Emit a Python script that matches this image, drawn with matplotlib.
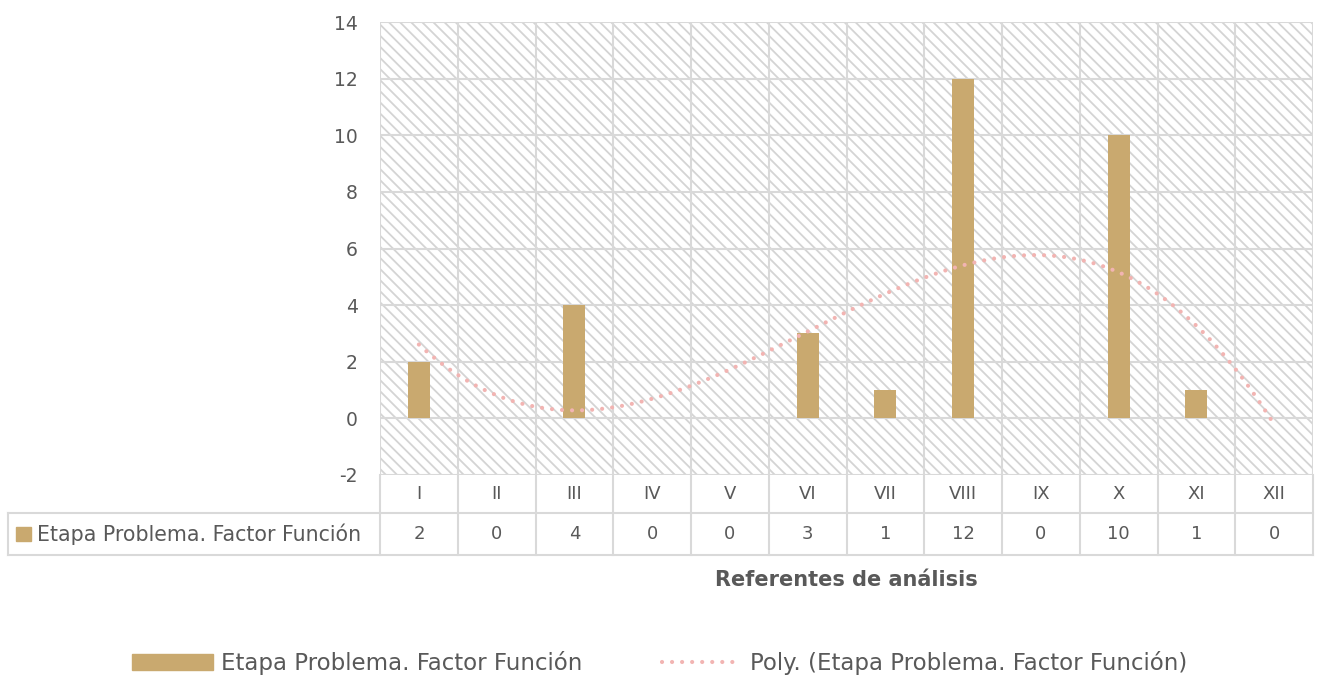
import numpy as np
import matplotlib.pyplot as plt
from matplotlib.patches import Rectangle
from matplotlib.lines import Line2D

# datos
referentes = ['I', 'II', 'III', 'IV', 'V', 'VI', 'VII', 'VIII', 'IX', 'X', 'XI', 'XII']
valores = [2, 0, 4, 0, 0, 3, 1, 12, 0, 10, 1, 0]
serie = 'Etapa Problema. Factor Función'

color_barra = '#C9A96F'
color_tend = '#F2B4B2'
gris = '#D9D9D9'
texto = '#595959'

plt.rcParams['font.family'] = ['DejaVu Sans']
plt.rcParams['hatch.linewidth'] = 1.3
plt.rcParams['axes.unicode_minus'] = False

W, H = 1320, 680
fig = plt.figure(figsize=(W / 100, H / 100), dpi=100)
ax = fig.add_axes([380 / W, 1 - 475 / H, 933 / W, 453 / H])

x = np.arange(1, len(valores) + 1)
ax.set_xlim(0.5, len(valores) + 0.5)
ax.set_ylim(-2, 14)

# fondo rayado
ax.add_patch(Rectangle((0, 0), 1, 1, transform=ax.transAxes, facecolor='white',
                       edgecolor='#D4D4D4', hatch='\\\\\\', linewidth=0, zorder=0))

# rejilla
for yv in range(-2, 15, 2):
    ax.axhline(yv, color=gris, lw=1.5, zorder=1)
for b in np.arange(0.5, len(valores) + 1, 1):
    ax.axvline(b, color=gris, lw=1.5, zorder=1)

ax.bar(x, valores, width=0.28, color=color_barra, zorder=2)

# línea de tendencia polinómica
coef = np.polyfit(x, valores, 3)
xs = np.linspace(1, len(valores), 200)
ax.plot(xs, np.polyval(coef, xs), color=color_tend, lw=3,
        linestyle=(0, (0.01, 2.4)), dash_capstyle='round', zorder=3)

for s in ax.spines.values():
    s.set_visible(False)
ax.set_xticks([])
ax.set_yticks(range(-2, 15, 2))
ax.tick_params(axis='y', length=0, pad=16, labelsize=13.5, labelcolor=texto)

# tabla de datos
tr = ax.get_xaxis_transform()
y1 = -38 / 453
y2 = -80 / 453
xl = (8 - 380) / 933
kw = dict(color=gris, lw=1.5, clip_on=False, zorder=4)
for b in np.arange(0.5, len(valores) + 1, 1):
    ax.add_line(Line2D([b, b], [y2, 0], transform=tr, **kw))
ax.add_line(Line2D([xl, 1], [y1, y1], transform=ax.transAxes, **kw))
ax.add_line(Line2D([xl, 1], [y2, y2], transform=ax.transAxes, **kw))
ax.add_line(Line2D([xl, xl], [y1, y2], transform=ax.transAxes, **kw))
for xi, r, v in zip(x, referentes, valores):
    ax.text(xi, y1 / 2, r, transform=tr, ha='center', va='center',
            fontsize=13, color=texto)
    ax.text(xi, (y1 + y2) / 2, str(v), transform=tr, ha='center', va='center',
            fontsize=13, color=texto)
ax.add_patch(Rectangle(((16 - 380) / 933, (y1 + y2) / 2 - 7 / 453), 15 / 933, 14 / 453,
                       transform=ax.transAxes, color=color_barra, clip_on=False))
ax.text((37 - 380) / 933, (y1 + y2) / 2, serie, transform=ax.transAxes,
        ha='left', va='center', fontsize=14.8, color=texto)

fig.text(846 / W, 1 - 580 / H, 'Referentes de análisis', ha='center', va='center',
         fontsize=15, fontweight='bold', color=texto)

handles = [Rectangle((0, 0), 1, 1, color=color_barra),
           Line2D([], [], color=color_tend, lw=3, linestyle=(0, (0.01, 2.4)),
                  dash_capstyle='round')]
fig.legend(handles, [serie, 'Poly. (' + serie + ')'], loc='center',
           bbox_to_anchor=(660 / W, 1 - 663 / H), ncol=2, frameon=False,
           fontsize=16.5, labelcolor=texto, handlelength=3.5, handleheight=0.65,
           columnspacing=3.5, handletextpad=0.35)

fig.savefig('out.png', dpi=100, facecolor='white')
